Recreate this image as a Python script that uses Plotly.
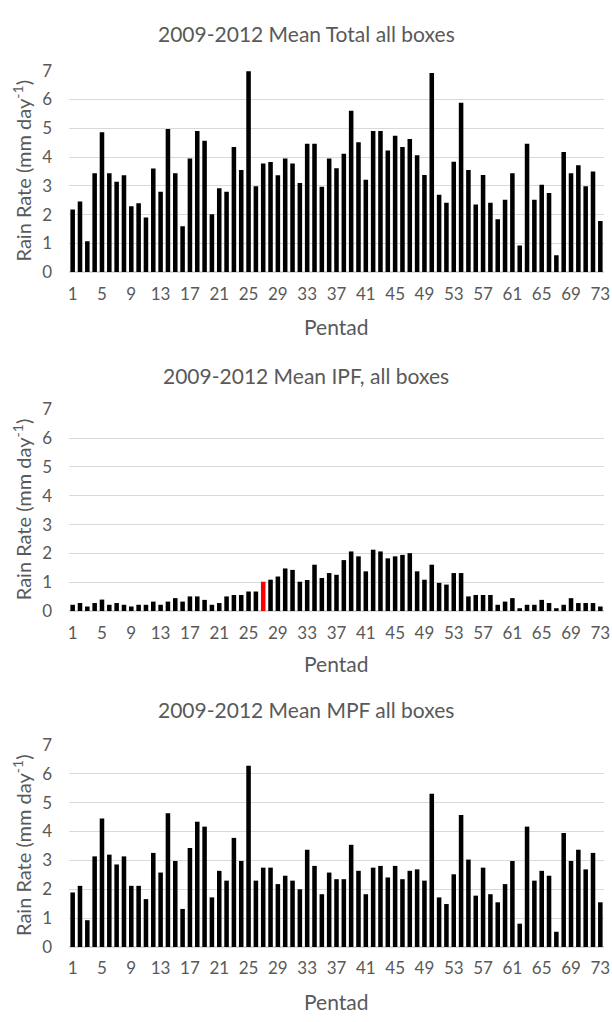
import plotly.graph_objects as go

# Pentads 1..73
pentads = list(range(1, 74))

total = [2.18, 2.46, 1.08, 3.44, 4.86, 3.44, 3.14, 3.37, 2.29, 2.40,
         1.90, 3.60, 2.80, 4.98, 3.44, 1.60, 3.95, 4.91, 4.57, 2.01,
         2.92, 2.80, 4.35, 3.55, 6.98, 2.99, 3.78, 3.83, 3.37, 3.95,
         3.78, 3.10, 4.46, 4.46, 2.97, 3.95, 3.61, 4.12, 5.61, 4.52,
         3.21, 4.91, 4.91, 4.23, 4.74, 4.35, 4.63, 4.06, 3.38, 6.92,
         2.69, 2.41, 3.84, 5.89, 3.55, 2.35, 3.38, 2.41, 1.84, 2.52,
         3.44, 0.93, 4.46, 2.52, 3.04, 2.75, 0.59, 4.18, 3.44, 3.72,
         2.99, 3.50, 1.78]

ipf = [0.22, 0.28, 0.16, 0.28, 0.40, 0.22, 0.28, 0.22, 0.16, 0.22,
       0.22, 0.33, 0.22, 0.33, 0.45, 0.33, 0.51, 0.51, 0.39, 0.22,
       0.28, 0.51, 0.56, 0.56, 0.68, 0.68, 1.02, 1.09, 1.20, 1.48,
       1.43, 1.02, 1.08, 1.61, 1.15, 1.32, 1.26, 1.77, 2.07, 1.90,
       1.38, 2.13, 2.07, 1.83, 1.90, 1.95, 2.01, 1.38, 1.09, 1.61,
       0.98, 0.92, 1.32, 1.32, 0.51, 0.56, 0.56, 0.56, 0.22, 0.33,
       0.45, 0.10, 0.22, 0.22, 0.39, 0.28, 0.10, 0.22, 0.45, 0.28,
       0.28, 0.28, 0.16]

mpf = [1.89, 2.12, 0.93, 3.14, 4.45, 3.20, 2.86, 3.14, 2.12, 2.12,
       1.66, 3.26, 2.58, 4.63, 2.98, 1.32, 3.43, 4.34, 4.17, 1.72,
       2.64, 2.30, 3.78, 2.98, 6.28, 2.30, 2.75, 2.75, 2.18, 2.47,
       2.30, 2.00, 3.37, 2.81, 1.83, 2.58, 2.35, 2.35, 3.54, 2.64,
       1.83, 2.75, 2.81, 2.41, 2.81, 2.35, 2.64, 2.69, 2.30, 5.31,
       1.72, 1.49, 2.52, 4.57, 3.03, 1.78, 2.75, 1.83, 1.55, 2.18,
       2.98, 0.81, 4.17, 2.30, 2.64, 2.47, 0.53, 3.95, 2.98, 3.37,
       2.69, 3.26, 1.55]

titles = ["2009-2012 Mean Total all boxes",
          "2009-2012 Mean IPF, all boxes",
          "2009-2012 Mean MPF all boxes"]
series = [total, ipf, mpf]
highlight_pentad = 27  # marked in red on the IPF panel

x_ticks = list(range(1, 74, 4))
y_ticks = list(range(0, 8))

W, H = 612, 1022
ML, MR = 69, 8
PW = W - ML - MR
FONT = "Lato"
TXT = "#595959"
GRID = "#d9d9d9"


def px_x(px):
    """Pixel column -> paper x (paper spans the plot area between margins)."""
    return (px - ML) / PW


def px_y(py):
    return 1 - py / H


# plot-area extents in pixels (top, bottom) for each panel
panels_px = [(61, 266.7), (406.7, 612.7), (749.3, 955.7)]
title_y_px = [23, 372, 713]
xlab_y_px = [322, 666, 1011]

fig = go.Figure()
annotations = []
for i, (vals, (top, bot)) in enumerate(zip(series, panels_px)):
    n = i + 1
    xa = "x" if n == 1 else f"x{n}"
    ya = "y" if n == 1 else f"y{n}"
    colors = ["#000000"] * len(pentads)
    if i == 1:
        colors[pentads.index(highlight_pentad)] = "#ff0000"
    fig.add_trace(go.Bar(x=[str(p) for p in pentads], y=vals, marker_color=colors,
                         marker_line_width=0, xaxis=xa, yaxis=ya,
                         showlegend=False))
    fig.layout[f"xaxis{'' if n == 1 else n}"] = dict(
        domain=[0, 1], anchor=ya, type="category",
        tickmode="array", tickvals=[str(t) for t in x_ticks],
        ticktext=[str(t) for t in x_ticks],
        showgrid=False, showline=True, linecolor=GRID, linewidth=1,
        ticks="", ticklabelstandoff=6,
        tickfont=dict(family=FONT, size=17, color=TXT))
    fig.layout[f"yaxis{'' if n == 1 else n}"] = dict(
        domain=[px_y(bot), px_y(top)], anchor=xa, range=[0, 7], tickvals=y_ticks,
        showgrid=True, gridcolor=GRID, gridwidth=1,
        zeroline=True, zerolinecolor=GRID, showline=False,
        ticks="", ticklabelstandoff=16,
        tickfont=dict(family=FONT, size=17, color=TXT))
    annotations.append(dict(text=titles[i], x=px_x(306), y=px_y(title_y_px[i]),
                            xref="paper", yref="paper", showarrow=False,
                            xanchor="center", yanchor="middle",
                            font=dict(family=FONT, size=21, color=TXT)))
    annotations.append(dict(text="Pentad", x=px_x(336), y=px_y(xlab_y_px[i]),
                            xref="paper", yref="paper", showarrow=False,
                            xanchor="center", yanchor="middle",
                            font=dict(family=FONT, size=21, color=TXT)))
    annotations.append(dict(text="Rain Rate (mm day<sup>-1</sup>)", x=px_x(22),
                            y=px_y((top + bot) / 2), xref="paper", yref="paper",
                            showarrow=False, textangle=-90,
                            xanchor="center", yanchor="middle",
                            font=dict(family=FONT, size=20, color=TXT)))

fig.update_layout(width=W, height=H, margin=dict(l=ML, r=MR, t=0, b=0),
                  bargap=0.38, plot_bgcolor="white", paper_bgcolor="white",
                  annotations=annotations)
fig.write_html("out.html")
